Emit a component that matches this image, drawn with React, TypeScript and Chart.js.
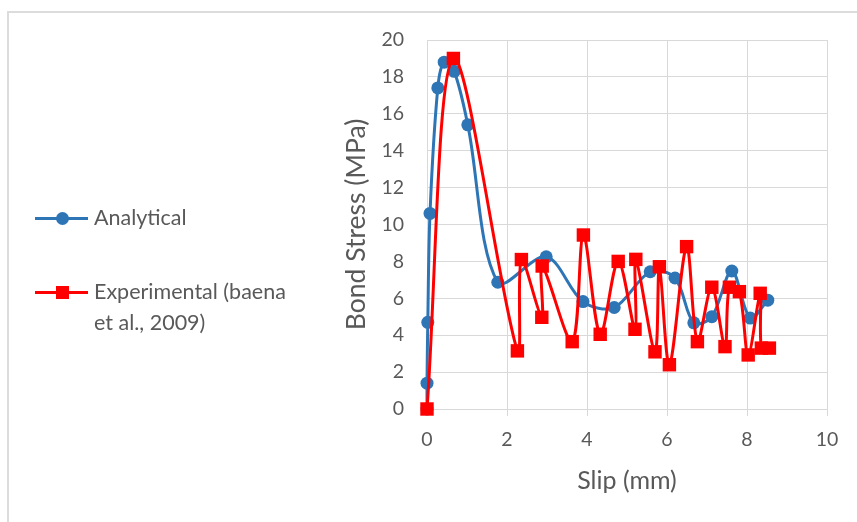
import React, { useEffect, useRef } from "react";
import { Chart, registerables } from "chart.js";

Chart.register(...registerables);

// Analytical series (slip mm, bond stress MPa)
const analyticalSlip = [0, 0, 0.02, 0.075, 0.27, 0.43, 0.68, 1.02, 1.77, 2.98, 3.9, 4.68, 5.58, 6.2, 6.67, 7.12, 7.62, 8.08, 8.52];
const analyticalStress = [0, 1.4, 4.7, 10.6, 17.4, 18.8, 18.3, 15.4, 6.87, 8.25, 5.82, 5.5, 7.44, 7.1, 4.67, 5.0, 7.48, 4.93, 5.9];

// Experimental series (Baena et al., 2009)
const experimentalSlip = [0, 0.66, 2.26, 2.36, 2.87, 2.88, 3.63, 3.91, 4.33, 4.78, 5.2, 5.22, 5.7, 5.81, 6.06, 6.49, 6.76, 7.12, 7.45, 7.56, 7.81, 8.03, 8.33, 8.36, 8.56];
const experimentalStress = [0, 19.0, 3.15, 8.1, 4.97, 7.75, 3.65, 9.43, 4.05, 8.0, 4.32, 8.11, 3.1, 7.71, 2.4, 8.8, 3.65, 6.6, 3.38, 6.6, 6.36, 2.93, 6.27, 3.3, 3.3];

const xTickValues = [0, 2, 4, 6, 8, 10];
const yTickValues = [0, 2, 4, 6, 8, 10, 12, 14, 16, 18, 20];

const seriesNames = ["Analytical", "Experimental (baena et al., 2009)"];

const BLUE = "#2E75B6";
const RED = "#FF0000";
const GRID = "#D9D9D9";
const TEXT = "#595959";
const FONT = "Lato, Carlito, 'Open Sans', sans-serif";

export default function App() {
  const canvasRef = useRef<HTMLCanvasElement | null>(null);

  useEffect(() => {
    const canvas = canvasRef.current;
    if (!canvas) return;
    const chart = new Chart(canvas, {
      type: "scatter",
      data: {
        datasets: [
          {
            label: seriesNames[1],
            data: experimentalSlip.map((x, i) => ({ x, y: experimentalStress[i] })),
            showLine: true,
            clip: false,
            borderColor: RED,
            backgroundColor: RED,
            borderWidth: 3,
            tension: 0.33,
            pointStyle: "rect",
            pointRadius: 9.5,
            pointBorderWidth: 0,
            pointBackgroundColor: RED,
            order: 0,
          },
          {
            label: seriesNames[0],
            data: analyticalSlip.map((x, i) => ({ x, y: analyticalStress[i] })),
            showLine: true,
            clip: false,
            borderColor: BLUE,
            backgroundColor: BLUE,
            borderWidth: 3,
            tension: 0.33,
            pointStyle: "circle",
            pointRadius: 6.5,
            pointBorderWidth: 0,
            pointBackgroundColor: BLUE,
            order: 1,
          },
        ],
      },
      options: {
        responsive: false,
        animation: false,
        layout: { padding: { left: 300, right: 30, top: 40, bottom: 0 } },
        plugins: {
          legend: { display: false },
          tooltip: { enabled: false },
        },
        scales: {
          x: {
            type: "linear",
            min: 0,
            max: 10,
            afterBuildTicks: (s: any) => {
              s.ticks = xTickValues.map((v) => ({ value: v }));
            },
            afterFit: (s: any) => {
              s.height = 113;
            },
            grid: { color: GRID, lineWidth: 1, drawTicks: true, tickLength: 7, tickColor: GRID },
            border: { color: GRID, width: 1 },
            ticks: {
              color: TEXT,
              font: { family: FONT, size: 19.5 },
              padding: 12,
              maxRotation: 0,
            },
            title: {
              display: true,
              text: "Slip (mm)",
              color: TEXT,
              font: { family: FONT, size: 25 },
              padding: { top: 0, bottom: 26 },
            },
          },
          y: {
            type: "linear",
            min: 0,
            max: 20,
            afterBuildTicks: (s: any) => {
              s.ticks = yTickValues.map((v) => ({ value: v }));
            },
            afterFit: (s: any) => {
              s.width = 127;
            },
            grid: { color: GRID, lineWidth: 1, drawTicks: false },
            border: { color: GRID, width: 1 },
            ticks: {
              color: TEXT,
              font: { family: FONT, size: 19.5 },
              padding: 23,
            },
            title: {
              display: true,
              text: "Bond Stress (MPa)",
              color: TEXT,
              font: { family: FONT, size: 26.5 },
              padding: { top: 41, bottom: 0 },
            },
          },
        },
      },
    });
    return () => chart.destroy();
  }, []);

  const legendText: React.CSSProperties = {
    position: "absolute",
    left: 94,
    fontFamily: FONT,
    fontSize: 21.5,
    color: TEXT,
    lineHeight: "31px",
    whiteSpace: "nowrap",
  };

  return (
    <div style={{ position: "fixed", left: 0, top: 0, width: 857, height: 522, background: "#fff", overflow: "hidden" }}>
      <div
        style={{
          position: "absolute",
          left: 7,
          top: 11,
          width: 900,
          height: 600,
          borderTop: "2px solid #DCDCDC",
          borderLeft: "2px solid #DCDCDC",
        }}
      />
      <canvas ref={canvasRef} width={857} height={522} style={{ position: "absolute", left: 0, top: 0 }} />
      {/* Legend */}
      <div style={{ position: "absolute", left: 35, top: 216.5, width: 53, height: 3, background: BLUE }} />
      <div style={{ position: "absolute", left: 55.5, top: 211.5, width: 13, height: 13, borderRadius: "50%", background: BLUE }} />
      <div style={{ ...legendText, top: 201.5 }}>{seriesNames[0]}</div>
      <div style={{ position: "absolute", left: 35, top: 290.5, width: 53, height: 3, background: RED }} />
      <div style={{ position: "absolute", left: 55.5, top: 285.5, width: 13, height: 13, background: RED }} />
      <div style={{ ...legendText, top: 276 }}>
        Experimental (baena
        <br />
        et al., 2009)
      </div>
    </div>
  );
}
